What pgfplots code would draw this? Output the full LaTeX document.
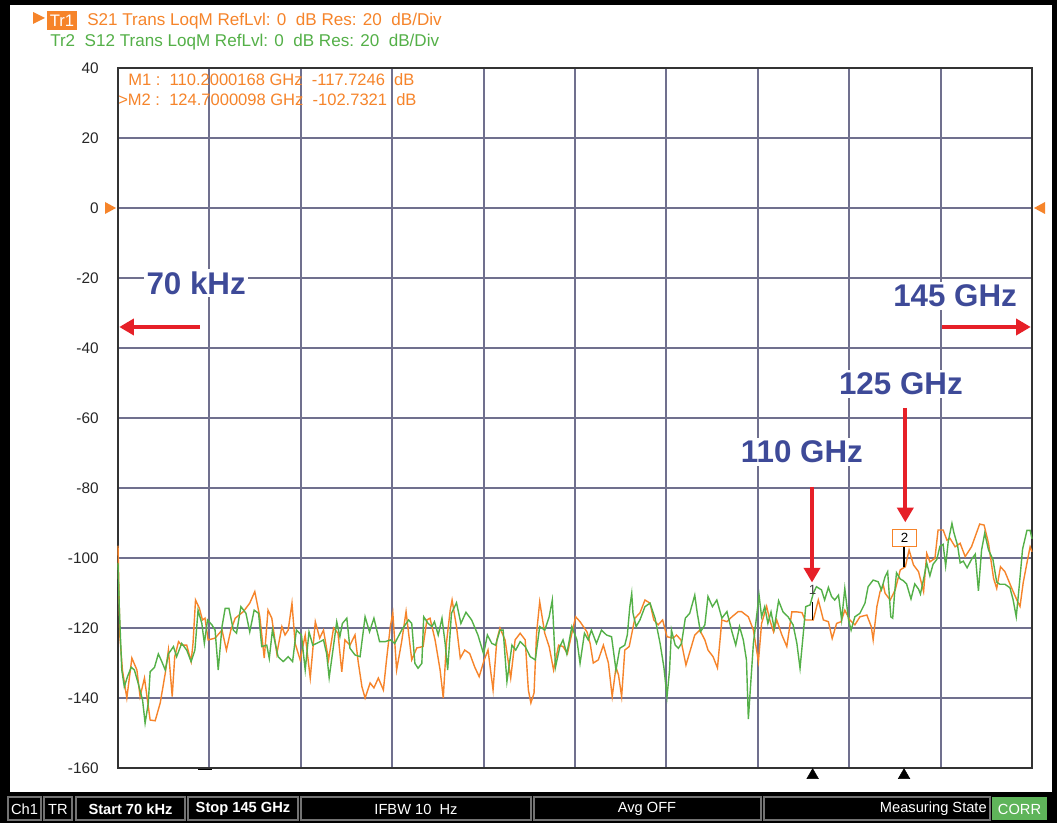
\documentclass[border=0pt]{standalone}
\usepackage{pgfplots}
\pgfplotsset{compat=1.18}
\usepackage{pgfplotstable}
\usepackage{fontspec}
\setmainfont{Liberation Sans}
\usetikzlibrary{arrows.meta}
\definecolor{tro}{RGB}{246,132,42}
\definecolor{trg}{RGB}{84,176,72}
\definecolor{gridc}{RGB}{112,112,142}
\definecolor{annob}{RGB}{62,74,152}
\definecolor{arr}{RGB}{230,32,40}
\definecolor{corr}{RGB}{95,180,90}

% Tr1 (S21), orange: frequency in GHz, level in dB
\pgfplotstableread{
f dB
0.0 -96.5
0.3 -122.5
0.7 -132.0
1.4 -140.0
2.2 -128.6
3.0 -132.0
3.5 -139.6
4.2 -134.3
4.6 -139.6
5.1 -146.3
5.9 -146.5
6.7 -141.4
7.5 -132.9
8.0 -126.3
8.6 -139.6
9.0 -128.2
9.6 -123.9
10.1 -124.9
10.9 -124.9
11.6 -129.6
11.9 -124.4
12.3 -112.0
12.9 -114.3
13.4 -117.7
13.8 -117.2
14.3 -123.4
15.4 -122.9
16.5 -120.6
17.2 -126.3
17.9 -120.6
18.6 -117.2
19.9 -115.3
20.9 -112.9
21.7 -109.6
22.5 -116.8
23.2 -128.6
23.8 -114.9
24.4 -117.2
25.2 -127.3
26.0 -119.6
26.5 -122.0
27.0 -120.6
27.6 -112.9
28.1 -124.4
28.9 -129.1
29.7 -122.0
30.5 -134.3
31.3 -118.2
32.0 -122.9
32.6 -120.6
33.4 -129.1
34.2 -120.0
34.9 -121.5
35.5 -132.5
36.0 -123.4
36.8 -124.9
37.6 -122.0
38.1 -129.6
38.7 -136.8
39.2 -140.0
40.0 -135.7
40.6 -137.1
41.3 -134.3
42.1 -137.7
42.6 -129.1
43.2 -119.6
43.6 -115.7
44.2 -132.0
45.0 -123.9
45.7 -115.3
46.6 -129.1
47.4 -125.7
48.4 -125.3
49.0 -117.7
49.5 -117.2
50.3 -123.4
51.1 -132.0
51.6 -140.0
52.1 -124.4
52.7 -114.9
53.0 -112.0
53.7 -119.6
54.3 -128.6
55.0 -126.3
55.8 -127.3
56.6 -131.2
57.3 -133.9
58.1 -129.1
58.7 -126.3
59.5 -137.7
60.1 -123.4
60.6 -120.0
61.4 -123.4
62.3 -134.3
63.0 -123.4
63.8 -121.5
64.6 -123.4
65.1 -137.7
65.5 -141.4
66.0 -138.6
66.4 -121.5
66.9 -112.5
67.7 -121.5
68.4 -125.3
69.1 -132.0
69.9 -124.9
70.6 -125.3
71.3 -127.3
72.0 -121.5
72.6 -116.8
73.3 -118.2
74.4 -121.1
74.9 -124.4
75.4 -130.0
76.2 -129.1
77.0 -124.9
77.8 -130.0
78.4 -139.6
79.0 -131.2
79.4 -133.4
79.9 -139.6
80.4 -126.3
81.1 -125.3
82.0 -117.2
82.8 -115.7
83.6 -112.0
84.4 -112.9
85.0 -117.7
85.7 -119.1
86.4 -117.7
87.1 -122.5
88.1 -122.9
88.6 -122.0
89.3 -123.4
90.1 -130.6
90.9 -125.7
91.5 -122.0
92.3 -120.6
93.1 -123.4
93.6 -126.3
94.4 -128.2
95.1 -131.4
95.8 -117.7
96.6 -118.2
97.4 -116.8
98.4 -115.3
98.9 -115.3
100.0 -116.8
100.8 -120.6
101.6 -129.6
102.1 -118.7
102.9 -113.8
103.4 -117.7
104.0 -121.1
104.5 -117.7
105.3 -121.9
106.1 -125.3
106.9 -115.4
107.7 -115.4
108.5 -115.6
109.0 -117.7
110.3 -117.7
111.1 -112.0
111.9 -117.7
112.7 -118.2
113.3 -123.0
114.0 -118.7
114.7 -118.2
115.3 -114.9
116.1 -117.7
116.9 -119.1
117.7 -116.8
118.8 -116.3
119.5 -119.6
119.8 -123.4
120.4 -113.8
120.9 -109.6
121.4 -107.7
121.7 -110.1
122.5 -112.0
123.3 -109.1
124.1 -103.4
124.9 -102.5
125.5 -97.7
126.2 -102.0
127.0 -103.9
127.8 -109.6
128.3 -98.7
128.8 -101.1
129.6 -100.1
130.1 -92.0
130.9 -92.0
131.5 -94.9
132.0 -94.4
132.8 -96.8
133.6 -95.8
134.4 -99.6
135.4 -96.8
136.7 -90.3
137.4 -90.6
138.1 -95.8
138.9 -105.8
139.4 -108.7
140.0 -102.5
140.7 -103.9
141.8 -108.7
142.6 -112.0
143.1 -113.8
143.6 -107.1
144.2 -101.4
144.7 -96.8
145.0 -98.2
}\trone

% Tr2 (S12), green
\pgfplotstableread{
f dB
0.0 -101.4
0.2 -113.9
0.6 -132.0
1.0 -136.8
1.5 -133.9
2.1 -131.2
2.6 -132.0
3.2 -135.8
3.9 -140.6
4.3 -147.2
4.8 -141.5
5.1 -132.5
5.8 -131.2
6.4 -127.4
6.9 -129.4
7.5 -132.0
8.0 -127.4
8.8 -125.3
9.3 -128.2
10.1 -124.4
10.9 -126.3
11.6 -129.6
12.2 -126.3
12.7 -114.9
13.3 -118.7
13.7 -124.4
14.2 -117.7
14.9 -119.1
15.4 -120.6
15.9 -132.0
16.5 -119.6
17.0 -114.4
17.6 -114.4
18.3 -120.6
18.8 -121.5
19.5 -113.9
20.3 -115.8
20.9 -121.1
21.6 -114.9
22.3 -115.8
22.8 -125.3
23.6 -124.9
24.0 -128.7
24.5 -120.6
25.4 -128.2
26.2 -129.6
27.0 -128.2
27.7 -129.6
28.3 -120.6
29.1 -122.0
29.7 -132.0
30.3 -121.1
30.9 -124.9
31.5 -124.4
32.6 -123.4
33.1 -127.4
33.5 -134.2
34.1 -126.3
34.7 -118.2
35.2 -122.5
35.6 -118.7
36.3 -117.2
36.8 -125.8
37.6 -127.7
38.4 -128.2
39.2 -116.8
39.9 -121.1
40.6 -117.2
41.5 -123.9
42.4 -123.9
43.2 -123.4
43.9 -124.4
45.0 -120.6
46.1 -117.7
46.6 -118.7
47.1 -130.1
47.6 -131.5
48.2 -130.1
48.5 -116.8
49.2 -118.7
49.8 -119.6
50.2 -118.2
50.8 -122.0
51.4 -117.2
51.9 -124.4
52.3 -132.0
52.9 -115.8
53.7 -112.8
54.4 -118.7
55.2 -115.5
56.1 -117.7
57.1 -122.0
58.0 -127.4
58.6 -122.0
59.3 -124.4
59.9 -124.9
60.6 -120.6
61.1 -120.6
61.7 -135.3
62.5 -124.9
63.1 -126.3
63.8 -123.9
64.6 -125.3
65.4 -128.2
66.2 -129.1
66.9 -119.6
67.7 -120.6
68.4 -116.8
68.9 -112.0
69.4 -131.2
70.1 -125.3
70.6 -123.4
71.2 -127.4
72.0 -119.6
72.8 -123.4
73.3 -130.1
74.0 -121.5
74.6 -123.4
75.1 -120.6
75.9 -124.4
76.7 -120.6
77.5 -122.0
78.3 -122.5
79.0 -132.0
79.6 -125.8
80.4 -124.9
80.8 -122.0
81.2 -113.9
81.5 -110.1
81.7 -115.8
82.2 -119.6
82.8 -117.7
83.6 -113.9
84.4 -112.9
85.2 -117.2
86.0 -124.4
86.6 -131.2
87.1 -139.6
87.5 -132.0
87.8 -120.6
88.4 -124.9
88.9 -125.8
89.4 -124.4
90.0 -117.2
90.7 -115.8
91.5 -110.6
91.9 -115.8
92.4 -121.1
93.1 -119.1
93.6 -111.0
94.3 -113.9
95.0 -112.0
95.8 -117.2
96.6 -115.3
97.4 -121.1
98.0 -124.9
98.6 -119.6
99.2 -123.4
99.7 -129.1
100.0 -146.0
100.8 -124.4
101.3 -116.8
101.7 -110.6
102.1 -116.8
102.6 -113.9
103.1 -118.7
103.6 -115.4
104.1 -120.1
104.8 -112.2
105.5 -115.4
106.3 -116.8
107.1 -119.1
107.7 -124.4
108.2 -131.5
108.7 -121.9
109.1 -113.9
109.8 -113.4
110.3 -110.1
110.8 -108.2
111.6 -109.1
112.1 -112.0
112.7 -108.4
113.2 -111.0
113.7 -112.0
114.3 -110.6
114.8 -117.7
115.3 -108.7
115.9 -117.7
116.3 -120.6
116.9 -116.8
117.7 -115.8
118.5 -112.9
119.0 -108.2
119.8 -106.3
120.6 -106.8
121.1 -109.1
121.7 -105.3
122.1 -103.9
122.6 -116.8
122.9 -117.2
123.2 -110.1
123.5 -104.2
124.1 -106.0
124.6 -106.5
125.1 -107.4
125.8 -111.7
126.4 -107.4
127.0 -108.9
127.3 -110.3
127.8 -106.0
128.3 -101.4
128.8 -105.1
129.3 -101.8
129.9 -100.4
130.4 -96.6
130.9 -96.1
131.3 -102.3
131.7 -95.4
132.3 -90.1
132.6 -92.7
133.2 -96.5
133.6 -101.4
134.1 -100.9
134.7 -102.8
135.4 -100.4
136.0 -98.9
136.5 -109.4
137.0 -97.7
137.5 -92.9
138.1 -97.7
138.8 -100.4
139.4 -106.9
139.9 -107.5
140.7 -107.5
141.5 -108.5
142.0 -111.9
142.5 -116.8
143.0 -107.5
143.5 -97.5
144.2 -92.1
144.7 -92.1
145.0 -94.5
}\trtwo

\begin{document}
\begin{tikzpicture}
% ---------- frame, header (pixel units, y downwards) ----------
\begin{scope}[x=0.75pt,y=-0.75pt]
\fill[white] (0,0) rectangle (1057,823);
\fill[black] (0,0) rectangle (1057,5);
\fill[black] (0,0) rectangle (10,823);
\fill[black] (1052,0) rectangle (1057,823);
% header
\fill[tro] (33,12) -- (45,18) -- (33,24) -- cycle;
\fill[tro] (47,11) rectangle (77,30);
\node[text=white, font=\fontsize{12.5}{13}\selectfont] at (62,20.5) {Tr1};
\node[anchor=west, inner sep=0pt, text=tro, font=\fontsize{12.8}{13}\selectfont] at (87,21) {S21 Trans LoqM RefLvl: 0\ \ dB Res: 20\ \ dB/Div};
\node[anchor=west, inner sep=0pt, text=trg, font=\fontsize{12.8}{13}\selectfont] at (50,42) {Tr2\ \ S12 Trans LoqM RefLvl: 0\ \ dB Res: 20\ \ dB/Div};
% 0 dB reference triangles
\fill[tro] (105,202) -- (116,208) -- (105,214) -- cycle;
\fill[tro] (1045,202) -- (1034,208) -- (1045,214) -- cycle;
\end{scope}

\begin{axis}[
  at={(88.5pt,-576pt)}, anchor=south west,
  scale only axis, width=685.5pt, height=525pt,
  xmin=0, xmax=145, ymin=-160, ymax=40,
  xtick={14.5,29,43.5,58,72.5,87,101.5,116,130.5},
  xticklabels={},
  ytick={-160,-140,-120,-100,-80,-60,-40,-20,0,20,40},
  grid=major,
  major grid style={gridc, line width=1.5pt},
  axis line style={black!80, line width=1.1pt},
  tick style={draw=none},
  yticklabel style={font=\fontsize{11.5}{12}\selectfont, text=black!85, xshift=-11pt},
  /pgf/number format/assume math mode=true,
  clip=false,
]
\addplot[tro, line width=1.05pt] table[x=f,y=dB]{\trone};
\addplot[trg, line width=1.05pt] table[x=f,y=dB]{\trtwo};

% marker list
\node[anchor=west, inner sep=0pt, text=tro, font=\fontsize{12.4}{13}\selectfont] at (axis cs:1.6,36.8) {M1 :\ \ 110.2000168 GHz\ \ -117.7246\ \ dB};
\node[anchor=west, inner sep=0pt, text=tro, font=\fontsize{12.4}{13}\selectfont] at (axis cs:0.0,31.1) {>M2 :\ \ 124.7000098 GHz\ \ -102.7321\ \ dB};

% markers 1 and 2
\draw[black, line width=1pt] (axis cs:110.2,-117.7) -- (axis cs:110.2,-112.5);
\node[text=black!75, font=\fontsize{10}{10}\selectfont, inner sep=0pt] at (axis cs:110.2,-109.2) {1};
\draw[black, line width=1pt] (axis cs:124.7,-102.7) -- (axis cs:124.7,-97.0);
\node[draw=tro, fill=white, line width=0.9pt, minimum width=18pt, minimum height=13pt, inner sep=0pt, font=\fontsize{10}{10}\selectfont] at (axis cs:124.8,-94.3) {2};
\addplot[only marks, mark=triangle*, mark size=5pt, black] coordinates {(110.2,-162.1) (124.7,-162.1)};
\draw[black, line width=1.3pt] (axis cs:12.7,-160.4) -- (axis cs:14.9,-160.4);

% annotations
\draw[arr, line width=3pt, -{Triangle[length=11pt,width=12pt]}] (axis cs:13.0,-34) -- (axis cs:0.2,-34);
\draw[arr, line width=3pt, -{Triangle[length=11pt,width=12pt]}] (axis cs:130.7,-34) -- (axis cs:144.8,-34);
\draw[arr, line width=3pt, -{Triangle[length=11pt,width=12pt]}] (axis cs:110.1,-79.7) -- (axis cs:110.1,-107.0);
\draw[arr, line width=3pt, -{Triangle[length=11pt,width=12pt]}] (axis cs:124.9,-57.1) -- (axis cs:124.9,-89.8);
\tikzset{anno/.style={fill=white, inner sep=2pt, text=annob, font=\bfseries\fontsize{23.5}{26}\selectfont}}
\node[anno] at (axis cs:12.4,-21.4) {70 kHz};
\node[anno] at (axis cs:132.8,-25.1) {145 GHz};
\node[anno] at (axis cs:124.2,-50.3) {125 GHz};
\node[anno] at (axis cs:108.5,-69.7) {110 GHz};
\end{axis}

% status bar
\begin{scope}[x=0.75pt,y=-0.75pt]
\fill[black] (0,792) rectangle (1057,823);
\tikzset{sb/.style={draw=black!55, line width=0.8pt}}
\draw[sb] (8,797) rectangle (41,820);
\draw[sb] (44,797) rectangle (72,820);
\draw[sb] (76,797) rectangle (185,820);
\draw[sb] (188,797) rectangle (298,820);
\draw[sb] (301,797) rectangle (531,820);
\draw[sb] (534,797) rectangle (761,820);
\draw[sb] (764,797) rectangle (990,820);
\fill[corr] (992,797) rectangle (1047,820);
\tikzset{st/.style={text=white, inner sep=0pt, font=\fontsize{11}{12}\selectfont}}
\node[st] at (24.5,809) {Ch1};
\node[st] at (58,809) {TR};
\node[st, font=\bfseries\fontsize{11}{12}\selectfont] at (130.5,809) {Start 70 kHz};
\node[st, font=\bfseries\fontsize{11}{12}\selectfont] at (243,809) {Stop 145 GHz};
\node[st] at (416,809) {IFBW 10\ \ Hz};
\node[st] at (647,809) {Avg OFF};
\node[st, anchor=east] at (987,809) {Measuring State};
\node[st] at (1019.5,809) {CORR};
\pgfresetboundingbox
\useasboundingbox (0,0) rectangle (1057,823);
\end{scope}
\end{tikzpicture}
\end{document}
